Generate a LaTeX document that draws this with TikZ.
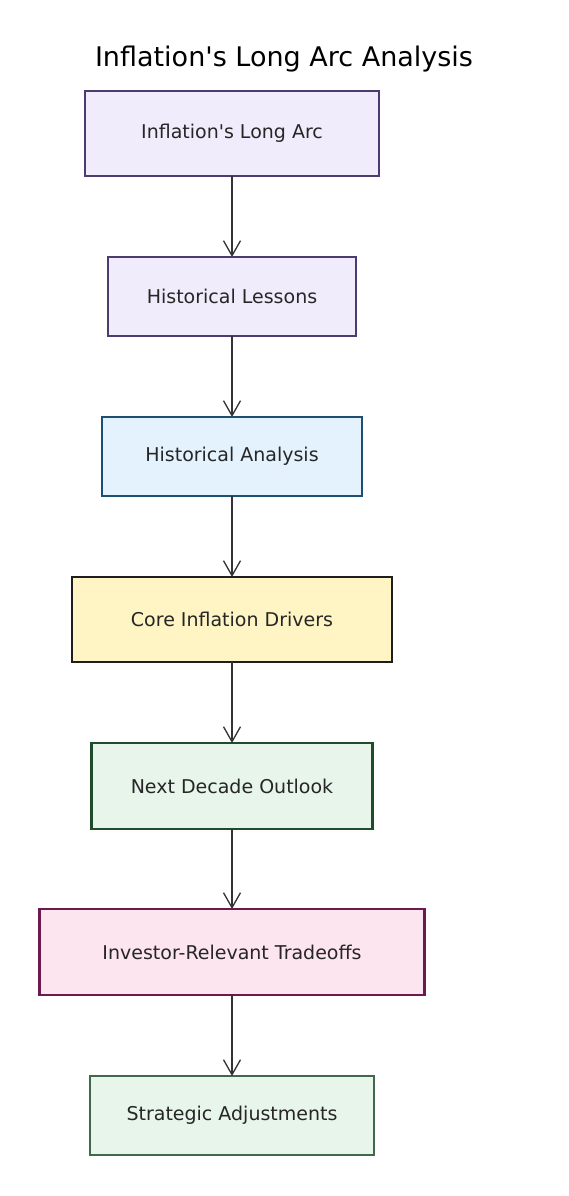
\documentclass[tikz,border=0pt]{standalone}
\usepackage{fontspec}
\setmainfont{DejaVu Sans}
\usepackage{xcolor}
\usetikzlibrary{positioning, arrows.meta}

\definecolor{lavfill}{HTML}{F1ECFC}
\definecolor{lavline}{HTML}{4B3B6E}
\definecolor{bluefill}{HTML}{E4F2FD}
\definecolor{blueline}{HTML}{1D4F73}
\definecolor{yelfill}{HTML}{FFF4C4}
\definecolor{yelline}{HTML}{1E1E1E}
\definecolor{grnfill}{HTML}{E7F5EA}
\definecolor{grnline}{HTML}{1F4D2C}
\definecolor{pinkfill}{HTML}{FCE5EE}
\definecolor{pinkline}{HTML}{6B1A4E}
\definecolor{inkline}{HTML}{333333}

\begin{document}
\begin{tikzpicture}[x=1pt, y=1pt, node distance=81pt, font=\fontsize{19}{22}\selectfont,
  stage/.style={draw, rectangle, align=center, outer sep=0pt, text=black!85},
  boldstage/.style={stage, line width=2.6pt},
  thinstage/.style={stage, line width=1.4pt},
  flow/.style={-{Straight Barb[length=15pt, width=17pt, line width=1.3pt]}, line width=1.3pt, draw=inkline}]

  % fixes the page to the reference size
  \useasboundingbox (0,0) rectangle (568,-1196);

  % --- title ---
  \node (title) at (284,-59) {\fontsize{27}{30}\selectfont Inflation\textquotesingle s Long Arc Analysis};

  % --- the chain of stages, top to bottom ---
  \node [boldstage, fill=lavfill, draw=lavline, minimum width=294pt, minimum height=85pt] (arc) at (232,-133.5) {Inflation\textquotesingle s Long Arc};
  \node [thinstage, fill=lavfill, draw=lavline, minimum width=248pt, minimum height=79pt, below=of arc] (lessons) {Historical Lessons};
  \node [thinstage, fill=bluefill, draw=blueline, minimum width=260pt, minimum height=79pt, below=of lessons] (analysis) {Historical Analysis};
  \node [boldstage, fill=yelfill, draw=yelline, minimum width=320pt, minimum height=85pt, below=of analysis] (drivers) {Core Inflation Drivers};
  \node [boldstage, fill=grnfill, draw=grnline, minimum width=281pt, minimum height=86pt, below=of drivers] (outlook) {Next Decade Outlook};
  \node [boldstage, fill=pinkfill, draw=pinkline, minimum width=385pt, minimum height=86pt, below=80pt of outlook] (tradeoffs) {Investor-Relevant Tradeoffs};
  \node [thinstage, fill=grnfill, draw=grnline!85!white, minimum width=284pt, minimum height=79pt, below=of tradeoffs] (adjust) {Strategic Adjustments};

  % --- connectors ---
  \draw [flow] (arc) -- (lessons);
  \draw [flow] (lessons) -- (analysis);
  \draw [flow] (analysis) -- (drivers);
  \draw [flow] (drivers) -- (outlook);
  \draw [flow] (outlook) -- (tradeoffs);
  \draw [flow] (tradeoffs) -- (adjust);

\end{tikzpicture}
\end{document}
